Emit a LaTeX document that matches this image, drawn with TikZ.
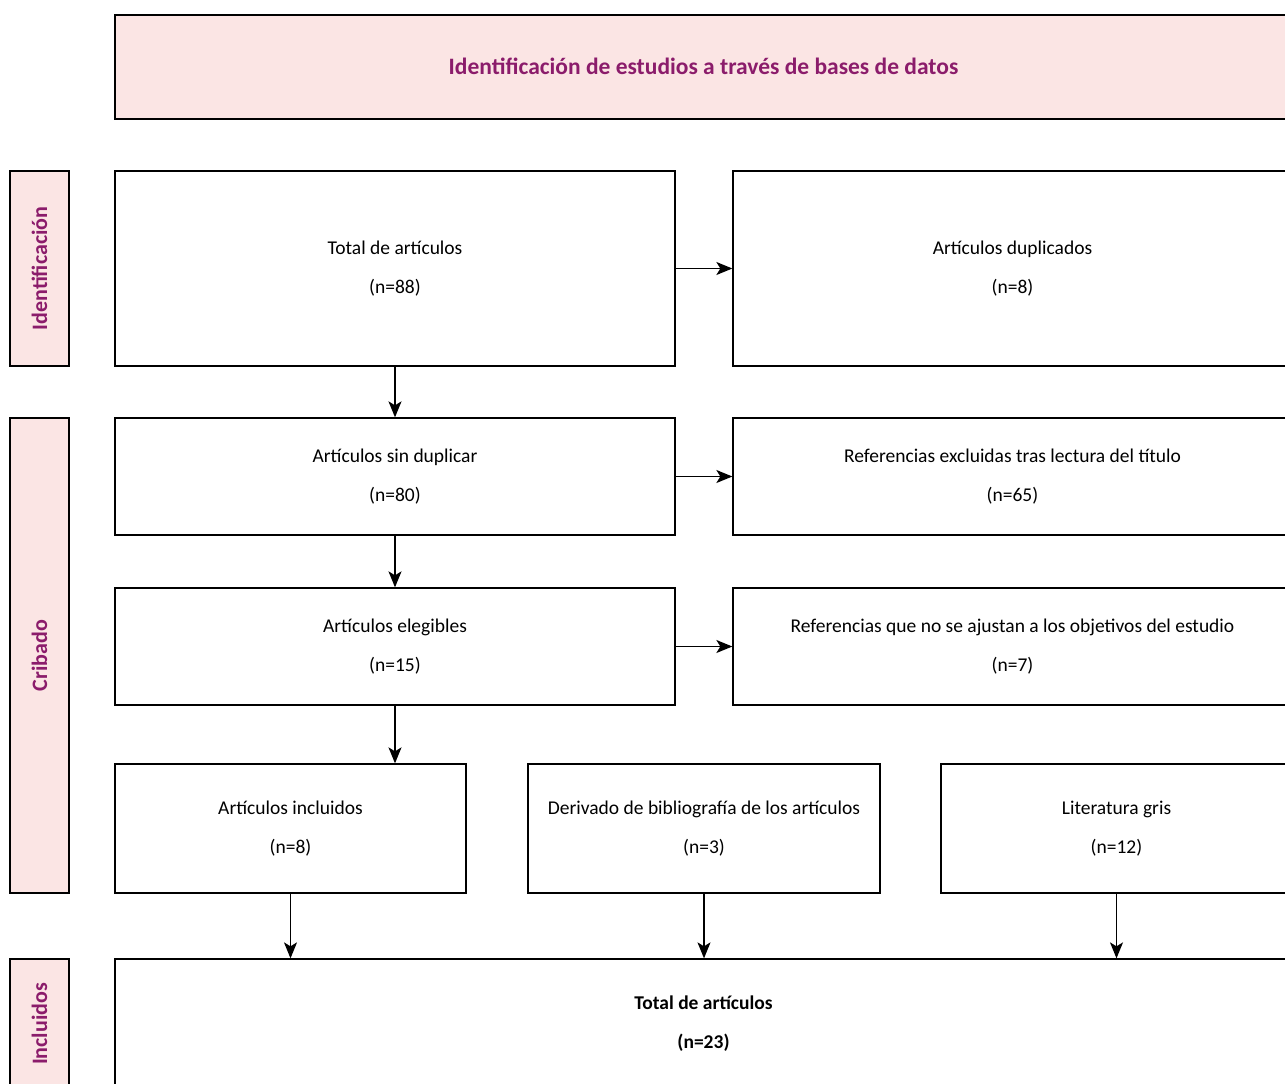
\documentclass[tikz,border=0pt]{standalone}
\usepackage{fontspec}
\setmainfont{Carlito}
\usetikzlibrary{arrows.meta}
\definecolor{pinkfill}{HTML}{FBE5E4}
\definecolor{purp}{HTML}{8B1C6B}
\begin{document}
\begin{tikzpicture}[x=1pt,y=-1pt,
  box/.style={draw=black,line width=1.3pt,fill=white,inner sep=0pt,font=\fontsize{19.5}{39}\selectfont,align=center},
  side/.style={draw=black,line width=1.3pt,fill=pinkfill,inner sep=0pt},
  sidetext/.style={rotate=90,text=purp,font=\fontsize{22}{24}\selectfont\bfseries},
  arr/.style={line width=1.4pt,-{Stealth[length=16pt,width=13pt,inset=4pt]}}]
\useasboundingbox (0,0) rectangle (1285,1084);
\clip (0,0) rectangle (1285,1084);
% title
\path[side] (115,15) rectangle (1292,119);
\node[text=purp,font=\fontsize{23.5}{26}\selectfont\bfseries] (title) at (703.5,66) {Identificación de estudios a través de bases de datos};
% side labels
\path[side] (10,171) rectangle (69,366);
\node[sidetext] (sid) at (39.5,268.5) {Identificación};
\path[side] (10,418) rectangle (69,893);
\node[sidetext] (scr) at (39.5,655.5) {Cribado};
\path[side] (10,959) rectangle (69,1090);
\node[sidetext] (sinc) at (39.5,1024) {Incluidos};
% boxes
\node[box,minimum width=560pt,minimum height=195pt] (A) at (395,268.5) {Total de artículos\\(n=88)};
\node[box,minimum width=559pt,minimum height=195pt] (B) at (1012.5,268.5) {Artículos duplicados\\(n=8)};
\node[box,minimum width=560pt,minimum height=117pt] (C) at (395,476.5) {Artículos sin duplicar\\(n=80)};
\node[box,minimum width=559pt,minimum height=117pt] (D) at (1012.5,476.5) {Referencias excluidas tras lectura del título\\(n=65)};
\node[box,minimum width=560pt,minimum height=117pt] (E) at (395,646.5) {Artículos elegibles\\(n=15)};
\node[box,minimum width=559pt,minimum height=117pt] (F) at (1012.5,646.5) {Referencias que no se ajustan a los objetivos del estudio\\(n=7)};
\node[box,minimum width=351pt,minimum height=129pt] (G) at (290.5,828.5) {Artículos incluidos\\(n=8)};
\node[box,minimum width=352pt,minimum height=129pt] (H) at (704,828.5) {Derivado de bibliografía de los artículos\\(n=3)};
\node[box,minimum width=351pt,minimum height=129pt] (I) at (1116.5,828.5) {Literatura gris\\(n=12)};
\node[box,minimum width=1177pt,minimum height=129pt,font=\fontsize{19.5}{39}\selectfont\bfseries] (J) at (703.5,1023.5) {Total de artículos\\(n=23)};
% arrows
\draw[arr] (A.east) -- (B.west);
\draw[arr] (C.east) -- (D.west);
\draw[arr] (E.east) -- (F.west);
\draw[arr] (A.south) -- (C.north);
\draw[arr] (C.south) -- (E.north);
\draw[arr] (E.south) -- (E.south |- G.north);
\draw[arr] (G.south) -- (G.south |- J.north);
\draw[arr] (H.south) -- (H.south |- J.north);
\draw[arr] (I.south) -- (I.south |- J.north);
\end{tikzpicture}
\end{document}
